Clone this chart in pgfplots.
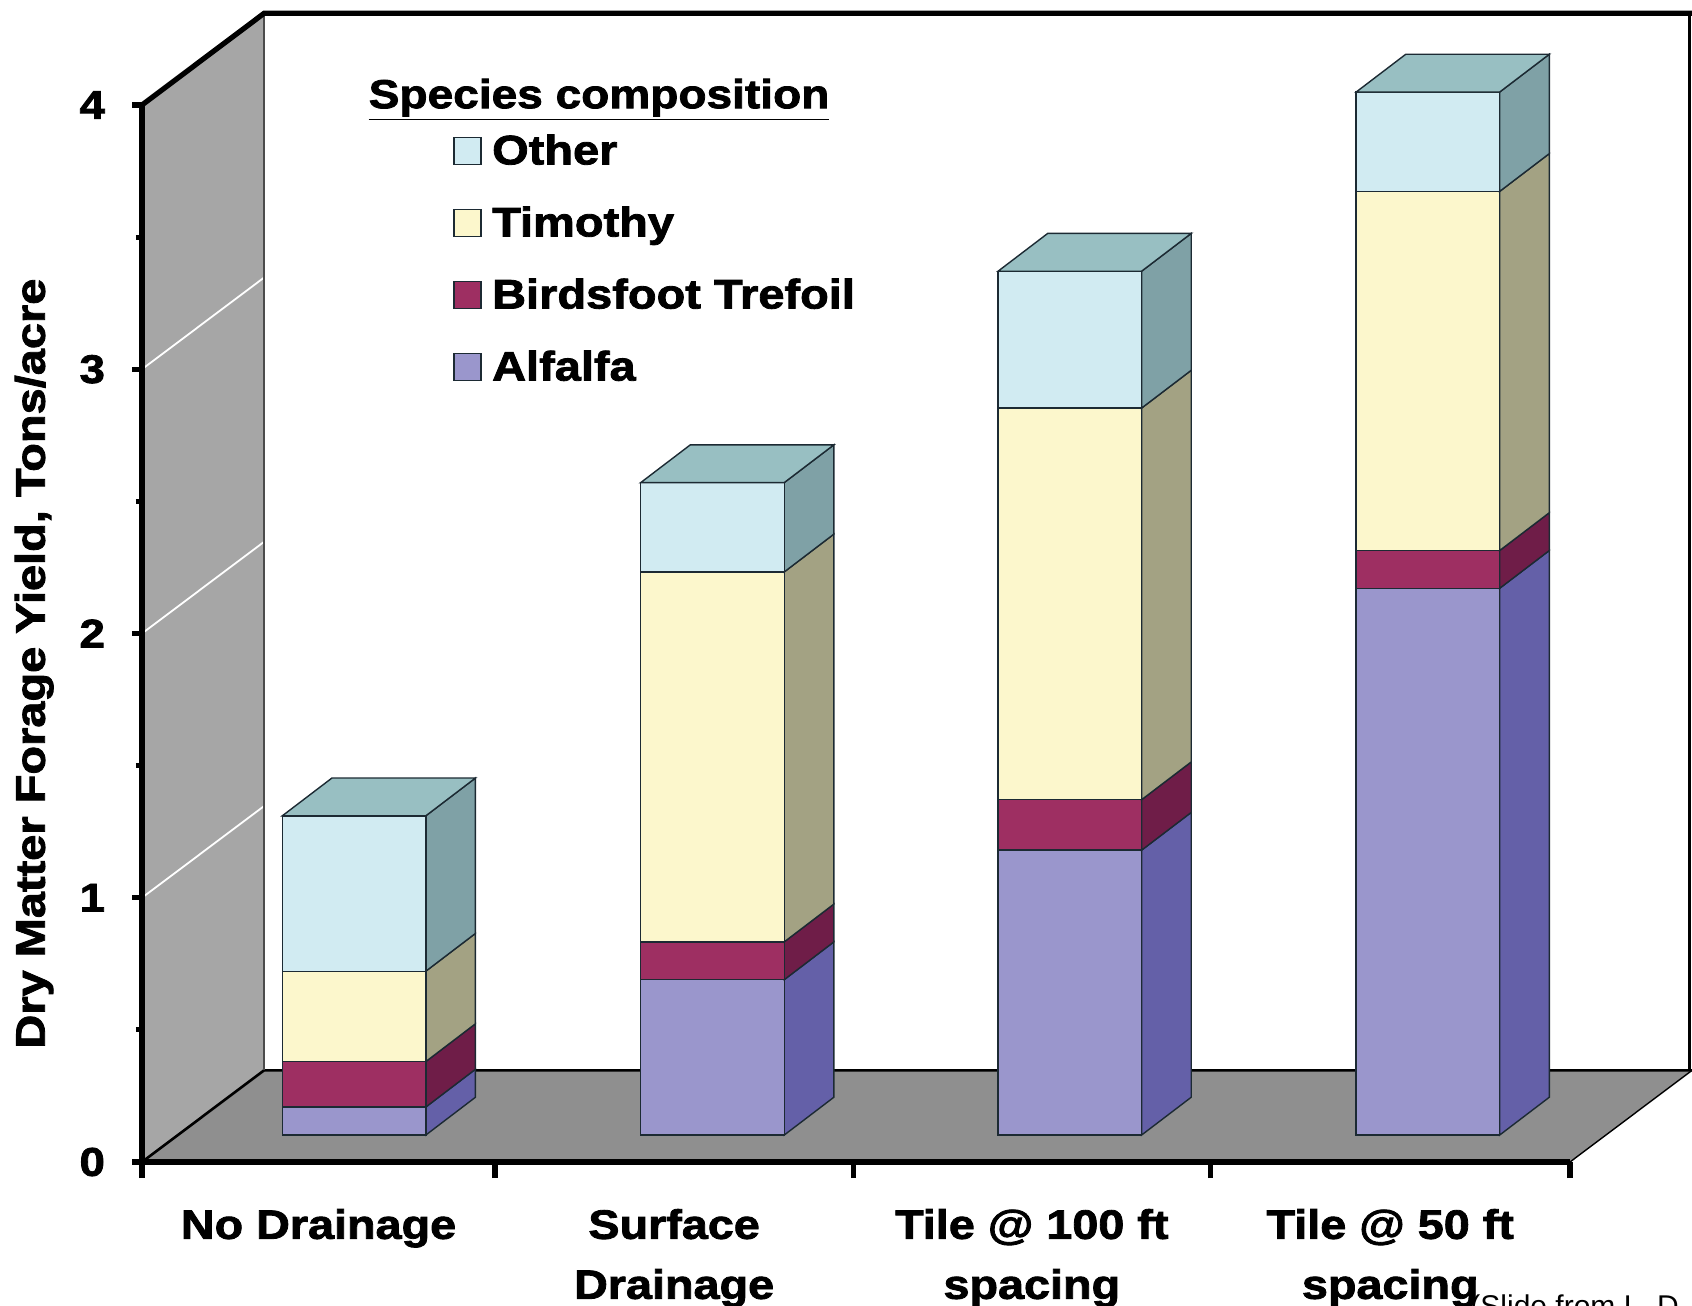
\documentclass[border=0pt]{standalone}
\usepackage{pgfplots}
\pgfplotsset{compat=1.18}
\usepackage{fontspec}
\setmainfont{Liberation Sans}
\newfontfamily\lab[UprightFont=* Bold,FakeStretch=1.14,FakeBold=2]{Liberation Sans}

\definecolor{wallc}{HTML}{A6A6A6}
\definecolor{floorc}{HTML}{8F8F8F}
\definecolor{alfF}{HTML}{9A96CC}
\definecolor{alfS}{HTML}{6460A8}
\definecolor{treF}{HTML}{9E2F62}
\definecolor{treS}{HTML}{6F1D48}
\definecolor{timF}{HTML}{FCF7CC}
\definecolor{timS}{HTML}{A3A283}
\definecolor{othF}{HTML}{D1EBF2}
\definecolor{othS}{HTML}{7FA1A6}
\definecolor{othT}{HTML}{98BFC2}
\definecolor{edgec}{HTML}{1C2A33}

% one stacked segment: left x, bottom, top, front colour, side colour
\newcommand{\seg}[5]{%
  \pgfmathsetmacro{\xr}{#1+0.402}
  \pgfmathsetmacro{\xd}{#1+0.541}
  \pgfmathsetmacro{\yb}{#2+0.143}
  \pgfmathsetmacro{\yt}{#3+0.143}
  \addplot[forget plot,fill=#5,draw=edgec,line width=0.7pt] coordinates {(\xr,#2) (\xd,\yb) (\xd,\yt) (\xr,#3)} --cycle;
  \addplot[forget plot,fill=#4,draw=edgec,line width=0.7pt] coordinates {(#1,#2) (\xr,#2) (\xr,#3) (#1,#3)} --cycle;
}
% left x, base, then tops of alfalfa, trefoil, timothy, other
\newcommand{\barstack}[6]{%
  \seg{#1}{#2}{#3}{alfF}{alfS}
  \seg{#1}{#3}{#4}{treF}{treS}
  \seg{#1}{#4}{#5}{timF}{timS}
  \seg{#1}{#5}{#6}{othF}{othS}
  \pgfmathsetmacro{\xr}{#1+0.402}
  \pgfmathsetmacro{\xd}{#1+0.541}
  \pgfmathsetmacro{\xl}{#1+0.139}
  \pgfmathsetmacro{\yt}{#6+0.143}
  \addplot[forget plot,fill=othT,draw=edgec,line width=0.7pt] coordinates {(#1,#6) (\xr,#6) (\xd,\yt) (\xl,\yt)} --cycle;
}

\begin{document}
\begin{tikzpicture}
\useasboundingbox (0,0) rectangle (846pt,653pt);
\begin{axis}[
    at={(71pt,72pt)},
    anchor=south west,
    scale only axis,
    width=714pt,
    height=528.5pt,
    xmin=0, xmax=4,
    ymin=0, ymax=4,
    clip=false,
    axis on top,
    axis x line=bottom,
    axis y line=left,
    axis line style={-,line width=2.6pt,black},
    tick align=outside,
    major tick length=8pt,
    minor tick length=5pt,
    tick style={line width=2.6pt,black},
    minor tick style={line width=2.4pt,black},
    y tick style={xscale=0.6},
    xtick={0,0.989,1.992,2.993,4},
    x tick label as interval,
    xticklabels={No Drainage,{Surface\\Drainage},{Tile @ 100 ft\\spacing},{Tile @ 50 ft\\spacing}},
    x tick label style={font=\lab\fontsize{20.5}{30}\selectfont,align=center,yshift=-12pt},
    ytick={0,1,2,3,4},
    minor ytick={0.5,1.5,2.5,3.5},
    y tick label style={font=\lab\fontsize{20}{24}\selectfont,xshift=-7pt},
    /pgf/number format/assume math mode=true,
    ylabel={Dry Matter Forage Yield, Tons/acre},
    every axis y label/.style={at={(axis description cs:-0.0755,0.4715)},rotate=90,anchor=center,font=\lab\fontsize{20.6}{24}\selectfont},
    legend image code/.code={\draw[#1] (0pt,-6.75pt) rectangle (13.5pt,6.75pt);},
    legend style={draw=none,fill=none,at={(axis cs:0.87,3.905)},anchor=north west,
        font=\lab\fontsize{20.6}{24}\selectfont,row sep=15.6pt,inner sep=0pt,
        nodes={anchor=west}},
    legend cell align=left,
]
% walls and floor
\addplot[forget plot,fill=wallc,draw=none] coordinates {(0,0) (0.342,0.347) (0.342,4.347) (0,4)} --cycle;
\addplot[forget plot,fill=floorc,draw=none] coordinates {(0,0) (4,0) (4.342,0.347) (0.342,0.347)} --cycle;
\addplot[forget plot,white,line width=0.9pt] coordinates {(0,1) (0.342,1.347)};
\addplot[forget plot,white,line width=0.9pt] coordinates {(0,2) (0.342,2.347)};
\addplot[forget plot,white,line width=0.9pt] coordinates {(0,3) (0.342,3.347)};
\addplot[forget plot,black,line width=1.3pt] coordinates {(0,0) (0.342,0.347) (4.342,0.347)};
\addplot[forget plot,black,line width=0.7pt] coordinates {(4,0) (4.342,0.347)};
\addplot[forget plot,black!70,line width=1.2pt] coordinates {(0.342,0.347) (0.342,4.347)};
\addplot[forget plot,black,line width=1.2pt] coordinates {(4.335,0.347) (4.335,4.347)};
\addplot[forget plot,black,line width=2.6pt] coordinates {(0,4) (0.342,4.347) (4.342,4.347)};
% bars
\barstack{0.393}{0.102}{0.208}{0.380}{0.722}{1.310}
\barstack{1.397}{0.102}{0.690}{0.833}{2.233}{2.571}
\barstack{2.398}{0.102}{1.180}{1.371}{2.853}{3.371}
\barstack{3.401}{0.102}{2.171}{2.314}{3.673}{4.049}
% legend
\addlegendimage{fill=othF,draw=edgec,line width=0.9pt}
\addlegendentry{\hspace{3.2pt}Other}
\addlegendimage{fill=timF,draw=edgec,line width=0.9pt}
\addlegendentry{\hspace{3.2pt}Timothy}
\addlegendimage{fill=treF,draw=edgec,line width=0.9pt}
\addlegendentry{\hspace{3.2pt}Birdsfoot Trefoil}
\addlegendimage{fill=alfF,draw=edgec,line width=0.9pt}
\addlegendentry{\hspace{3.2pt}Alfalfa}
\node[anchor=base west,inner sep=0pt,font=\lab\fontsize{20.2}{24}\selectfont] at (axis cs:0.634,3.988) {\underline{Species composition}};
\node[anchor=base west,inner sep=0pt,font=\fontsize{15}{18}\selectfont] at (axis cs:3.72,-0.584) {(Slide from L. D};
\end{axis}
\end{tikzpicture}
\end{document}
